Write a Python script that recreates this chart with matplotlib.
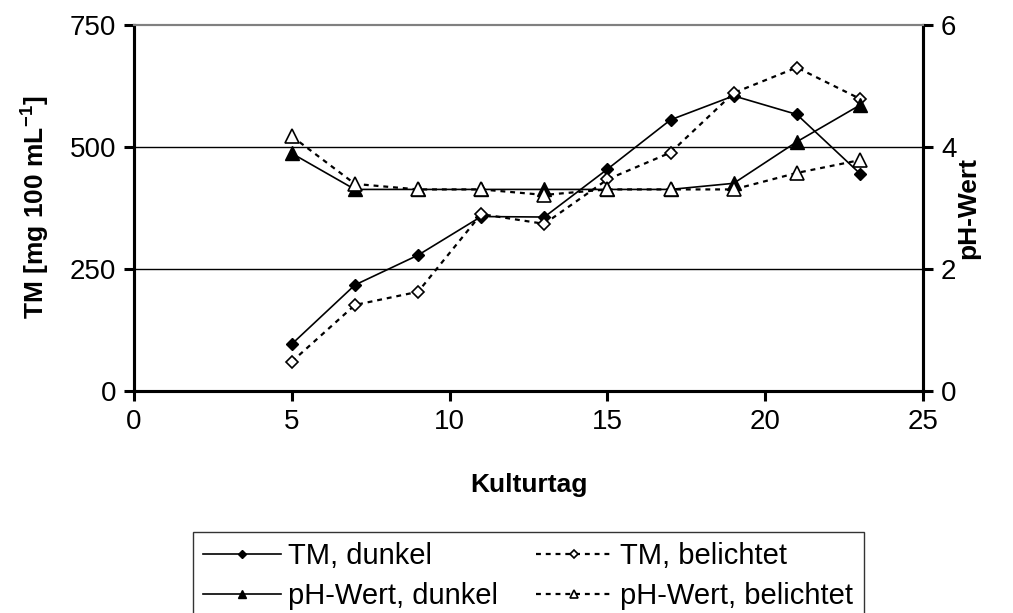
import numpy as np
import matplotlib
matplotlib.use("Agg")
import matplotlib.pyplot as plt

plt.rcParams['font.family'] = ['Liberation Sans', 'DejaVu Sans']
plt.rcParams['mathtext.fontset'] = 'custom'
plt.rcParams['mathtext.bf'] = 'Liberation Sans:bold'

# data
kulturtag = [5, 7, 9, 11, 13, 15, 17, 19, 21, 23]
tm_dunkel = [96, 217, 278, 357, 356, 454, 555, 604, 566, 445]
tm_belichtet = [60, 176, 203, 362, 342, 433, 488, 610, 662, 598]
ph_dunkel = [3.89, 3.3, 3.3, 3.3, 3.3, 3.3, 3.3, 3.4, 4.08, 4.68]
ph_belichtet = [4.17, 3.39, 3.3, 3.3, 3.21, 3.3, 3.3, 3.3, 3.57, 3.78]

fig = plt.figure(figsize=(10.13, 6.13), dpi=100)
ax = fig.add_axes([0.1323, 0.3622, 0.7789, 0.5978])
ax2 = ax.twinx()

dash = (0, (2.2, 2.2))
l1, = ax.plot(kulturtag, tm_dunkel, color='black', lw=1.2, marker='D', ms=6.5,
              mfc='black', mec='black', label='TM, dunkel', zorder=3)
l2, = ax.plot(kulturtag, tm_belichtet, color='black', lw=1.6, ls=dash, marker='D', ms=6.5,
              mfc='white', mec='black', mew=1.2, label='TM, belichtet', zorder=3)
l3, = ax2.plot(kulturtag, ph_dunkel, color='black', lw=1.2, marker='^', ms=10,
               mfc='black', mec='black', label='pH-Wert, dunkel', zorder=3)
l4, = ax2.plot(kulturtag, ph_belichtet, color='black', lw=1.6, ls=dash, marker='^', ms=10,
               mfc='white', mec='black', mew=1.2, label='pH-Wert, belichtet', zorder=3)

ax.set_xlim(0, 25)
ax.set_ylim(0, 750)
ax2.set_ylim(0, 6)
ax.set_xticks(np.arange(0, 26, 5))
ax.set_yticks([0, 250, 500, 750])
ax2.set_yticks([0, 2, 4, 6])

for y in [250, 500]:
    ax.axhline(y, color='black', lw=1.0, zorder=1)

for a in (ax, ax2):
    a.spines['top'].set_color('#808080')
    a.spines['top'].set_linewidth(1.5)
    for s in ('left', 'right', 'bottom'):
        a.spines[s].set_linewidth(2.2)
    a.tick_params(direction='out', length=7, width=2.2, labelsize=20, pad=6)

ax.set_xlabel('Kulturtag', fontsize=19, fontweight='bold', labelpad=27)
ax.set_ylabel('TM [mg 100 mL$^{\\mathbf{-1}}$]', fontsize=19, fontweight='bold', labelpad=13)
ax2.set_ylabel('pH-Wert', fontsize=19, fontweight='bold', labelpad=0)

leg = fig.legend(handles=[l1, l3, l2, l4], ncol=2, loc='upper left',
                 bbox_to_anchor=(193 / 1013, 1 - 532 / 613), fontsize=21,
                 frameon=True, fancybox=False, edgecolor='black', markerscale=0.6,
                 handlelength=2.65, handletextpad=0.25, columnspacing=1.3,
                 labelspacing=0.4, borderpad=0.35, borderaxespad=0)
leg.get_frame().set_linewidth(1.0)

fig.savefig('out.png', dpi=100)
